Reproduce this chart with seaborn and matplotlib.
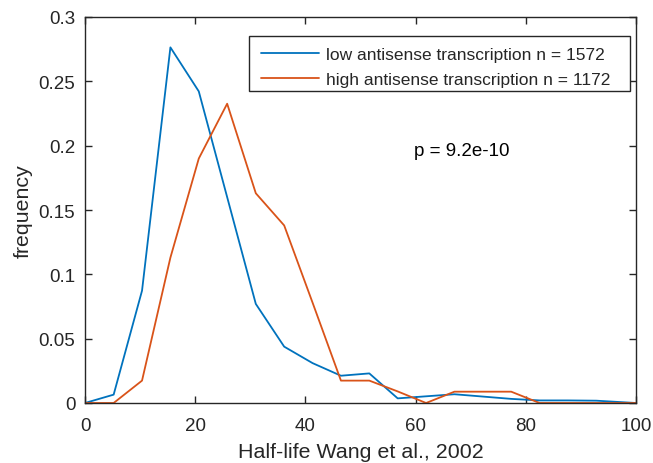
import numpy as np
import pandas as pd
import matplotlib
matplotlib.use("Agg")
import matplotlib.pyplot as plt
from matplotlib.patches import Rectangle
import seaborn as sns

half_life = [0.0, 5.2, 10.35, 15.5, 20.65, 25.8, 31.0, 36.15, 41.3, 46.45, 51.6,
             56.75, 61.9, 67.05, 72.2, 77.35, 82.5, 87.65, 92.8, 100.0]
low_freq = [0.0, 0.0065, 0.0873, 0.2764, 0.2422, 0.160, 0.077, 0.0438, 0.031, 0.0212,
            0.023, 0.0036, 0.0052, 0.0068, 0.0050, 0.0032, 0.002, 0.002, 0.0018, 0.0]
high_freq = [0.0, 0.0, 0.0174, 0.113, 0.190, 0.2326, 0.163, 0.138, 0.078, 0.0174,
             0.0174, 0.009, 0.0, 0.0088, 0.0088, 0.0088, 0.0, 0.0, 0.0, 0.0]
labels = ["low antisense transcription n = 1572", "high antisense transcription n = 1172"]
colors = ["#0072BD", "#D95319"]
x_ticks = [0, 20, 40, 60, 80, 100]
y_ticks = [0, 0.05, 0.1, 0.15, 0.2, 0.25, 0.3]
y_tick_labels = ["0", "0.05", "0.1", "0.15", "0.2", "0.25", "0.3"]

df = pd.concat([
    pd.DataFrame({"x": half_life, "y": low_freq, "group": labels[0]}),
    pd.DataFrame({"x": half_life, "y": high_freq, "group": labels[1]}),
])

sns.set_style("ticks")
plt.rcParams["font.family"] = ["Liberation Sans", "DejaVu Sans"]

fig = plt.figure(figsize=(6.53, 4.64), dpi=100)
ax = fig.add_axes([85/653, 1 - 404/464, (636-85)/653, (404-18)/464])
sns.lineplot(data=df, x="x", y="y", hue="group", palette=colors, linewidth=1.3,
             ax=ax, sort=False)

ax.set_xlim(0, 100)
ax.set_ylim(0, 0.3)
ax.set_xticks(x_ticks)
ax.set_yticks(y_ticks)
ax.set_yticklabels(y_tick_labels)
ax.tick_params(direction="in", length=5, width=1.0, top=True, right=True,
               labelsize=13.5, colors="#262626")
ax.tick_params(axis="x", pad=10)
ax.tick_params(axis="y", pad=7)
for s in ax.spines.values():
    s.set_visible(True)
    s.set_linewidth(1.0)
    s.set_color("#262626")
ax.set_xlabel("Half-life Wang et al., 2002", fontsize=15.4, color="#262626", labelpad=6)
ax.set_ylabel("frequency", fontsize=15.4, color="#262626", labelpad=4.5)

# legend frame (MATLAB-style box) and legend entries
box = Rectangle((0.2976, 0.8083), 0.9891 - 0.2976, 0.9508 - 0.8083,
                transform=ax.transAxes, facecolor="white", edgecolor="#262626",
                linewidth=1.0, zorder=4)
ax.add_patch(box)
leg = ax.legend(loc="upper left", bbox_to_anchor=(0.3194, 0.923), fontsize=12.5,
                frameon=False, handlelength=3.33, borderpad=0, labelspacing=0.6,
                handletextpad=0.4, borderaxespad=0)
leg.set_zorder(5)
for line in leg.get_lines():
    line.set_linewidth(1.3)

ax.text(68.4, 0.1966, "p = 9.2e-10", fontsize=13.5, ha="center", va="center", color="black")

fig.savefig("out.png", dpi=100)
